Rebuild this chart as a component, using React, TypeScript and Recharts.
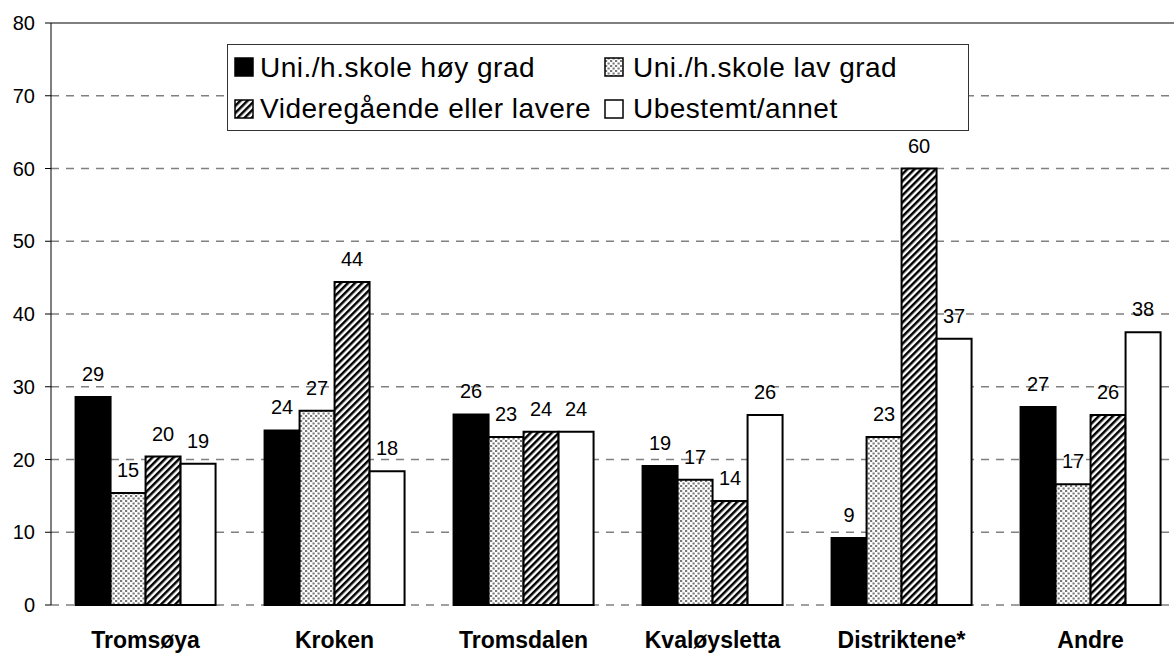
import React from "react";
import {
  BarChart,
  Bar,
  XAxis,
  YAxis,
  CartesianGrid,
  ReferenceLine,
  LabelList,
} from "recharts";

const categories = ["Tromsøya", "Kroken", "Tromsdalen", "Kvaløysletta", "Distriktene*", "Andre"];
const hoyGrad = [28.6, 24.0, 26.2, 19.1, 9.2, 27.2];
const lavGrad = [15.4, 26.7, 23.1, 17.2, 23.1, 16.6];
const videregaende = [20.4, 44.4, 23.8, 14.3, 60.0, 26.1];
const ubestemt = [19.4, 18.4, 23.8, 26.1, 36.6, 37.5];
const yTicks = [0, 10, 20, 30, 40, 50, 60, 70, 80];
const boundaryTicks = [0, 1, 2, 3, 4, 5, 6];

const seriesNames = [
  "Uni./h.skole høy grad",
  "Uni./h.skole lav grad",
  "Videregående eller lavere",
  "Ubestemt/annet",
];

const data = categories.map((c, i) => ({
  name: c,
  hoy: hoyGrad[i],
  lav: lavGrad[i],
  vgs: videregaende[i],
  ube: ubestemt[i],
}));

const FONT = "'Liberation Sans', Arial, sans-serif";

const fills = ["#000000", "url(#dots)", "url(#stripes)", "#ffffff"];

const CatTick = (props: any) => {
  const { x, y, payload } = props;
  return (
    <text
      x={x}
      y={y}
      dy={35}
      textAnchor="middle"
      fontFamily={FONT}
      fontWeight="bold"
      fontSize={23}
      fill="#000"
    >
      {payload.value}
    </text>
  );
};

const EmptyTick = () => <g />;

const round = (v: any) => Math.round(Number(v));

const Legend = () => {
  const items = [
    { x: 235, y: 58, tx: 260, ty: 77 },
    { x: 605, y: 58, tx: 633, ty: 77 },
    { x: 235, y: 100, tx: 260, ty: 118 },
    { x: 605, y: 100, tx: 633, ty: 118 },
  ];
  return (
    <svg
      width={1174}
      height={653}
      style={{ position: "absolute", left: 0, top: 0, pointerEvents: "none" }}
    >
      <rect x={227.5} y={44.5} width={741} height={86} fill="#fff" stroke="#333" strokeWidth={1} />
      {items.map((it, i) => (
        <g key={i}>
          <rect x={it.x} y={it.y} width={18} height={18} fill={fills[i]} stroke="#000" strokeWidth={1.5} />
          <text
            x={it.tx}
            y={it.ty}
            fontFamily={FONT}
            fontSize={28}
            letterSpacing={0.5}
            fill="#000"
          >
            {seriesNames[i]}
          </text>
        </g>
      ))}
    </svg>
  );
};

export default function App() {
  return (
    <div
      style={{
        position: "fixed",
        left: 0,
        top: 0,
        width: 1174,
        height: 653,
        overflow: "hidden",
        background: "#fff",
      }}
    >
      <svg width={0} height={0} style={{ position: "absolute" }}>
        <defs>
          <pattern id="dots" patternUnits="userSpaceOnUse" width={5} height={5}>
            <rect x={0} y={0} width={5} height={5} fill="#fff" />
            <rect x={0} y={0} width={2.2} height={2} fill="#777" />
            <rect x={2.5} y={2.5} width={2.2} height={2} fill="#777" />
          </pattern>
          <pattern
            id="stripes"
            patternUnits="userSpaceOnUse"
            width={5}
            height={5}
            patternTransform="rotate(45)"
          >
            <rect x={0} y={0} width={5} height={5} fill="#fff" />
            <rect x={0} y={0} width={2.5} height={5} fill="#000" />
          </pattern>
        </defs>
      </svg>
      <BarChart
        width={1200}
        height={653}
        data={data}
        margin={{ top: 23, right: 15, bottom: 0, left: 0 }}
        barCategoryGap="13%"
        barGap={0}
      >
        <CartesianGrid
          vertical={false}
          stroke="#808080"
          strokeWidth={1.5}
          strokeDasharray="8 7"
        />
        <ReferenceLine y={80} stroke="#808080" strokeWidth={2} />
        <XAxis
          xAxisId="bounds"
          type="number"
          domain={[0, 6]}
          ticks={boundaryTicks}
          height={0}
          axisLine={{ stroke: "#000", strokeWidth: 1.5 }}
          tickLine={{ stroke: "#000", strokeWidth: 1 }}
          tickSize={6}
          tick={<EmptyTick />}
          allowDataOverflow
        />
        <XAxis
          dataKey="name"
          height={48}
          axisLine={false}
          tickLine={false}
          tick={<CatTick />}
          interval={0}
        />
        <YAxis
          width={51}
          domain={[0, 80]}
          ticks={yTicks}
          interval={0}
          axisLine={{ stroke: "#000", strokeWidth: 1 }}
          tickLine={{ stroke: "#000", strokeWidth: 1 }}
          tickSize={6}
          tickMargin={10}
          tick={{ fontFamily: FONT, fontSize: 20, fill: "#000" }}
        />
        <Bar dataKey="hoy" fill={fills[0]} stroke="#000" strokeWidth={2} isAnimationActive={false}>
          <LabelList dataKey="hoy" position="top" offset={16} formatter={round} fontFamily={FONT} fontSize={20} fill="#000" />
        </Bar>
        <Bar dataKey="lav" fill={fills[1]} stroke="#000" strokeWidth={2} isAnimationActive={false}>
          <LabelList dataKey="lav" position="top" offset={16} formatter={round} fontFamily={FONT} fontSize={20} fill="#000" />
        </Bar>
        <Bar dataKey="vgs" fill={fills[2]} stroke="#000" strokeWidth={2} isAnimationActive={false}>
          <LabelList dataKey="vgs" position="top" offset={16} formatter={round} fontFamily={FONT} fontSize={20} fill="#000" />
        </Bar>
        <Bar dataKey="ube" fill={fills[3]} stroke="#000" strokeWidth={2} isAnimationActive={false}>
          <LabelList dataKey="ube" position="top" offset={16} formatter={round} fontFamily={FONT} fontSize={20} fill="#000" />
        </Bar>
      </BarChart>
      <Legend />
    </div>
  );
}
